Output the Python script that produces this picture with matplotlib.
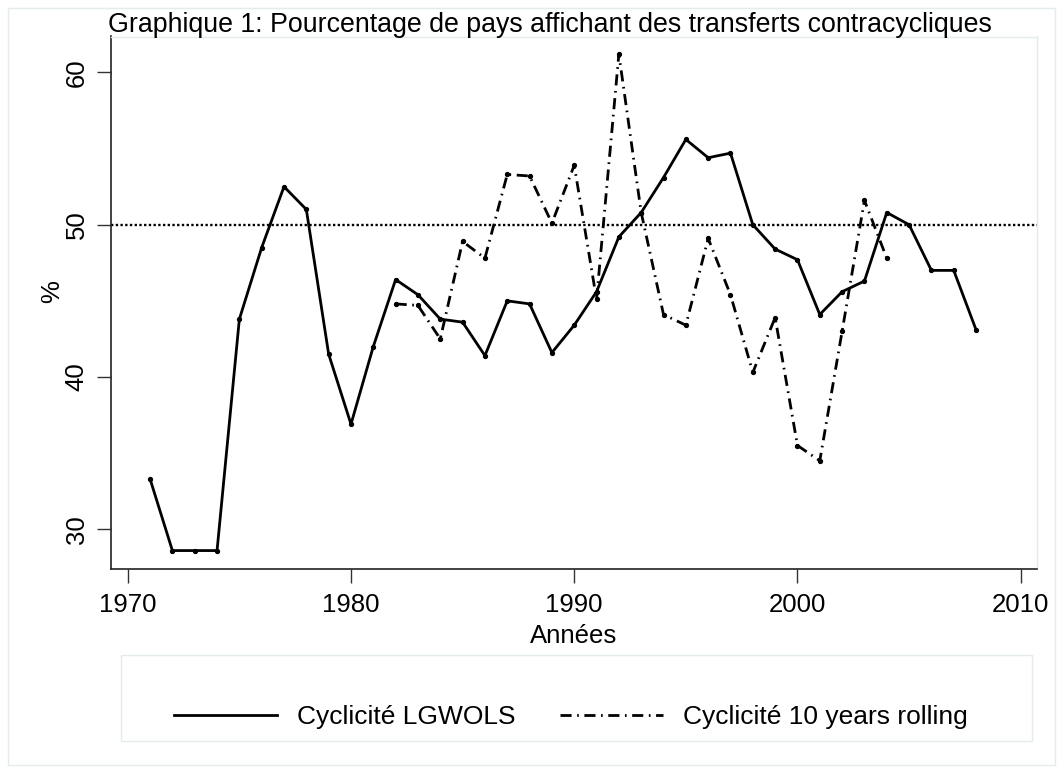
import matplotlib
matplotlib.use("Agg")
import matplotlib.pyplot as plt
from matplotlib.lines import Line2D
from matplotlib.patches import Rectangle

plt.rcParams['font.family'] = ['Liberation Sans', 'DejaVu Sans']

# --- data ---
years_lgwols = list(range(1971, 2009))
cyc_lgwols = [33.3, 28.6, 28.6, 28.6, 43.8, 48.5, 52.5, 51.0, 41.5, 36.9,
              42.0, 46.4, 45.4, 43.8, 43.6, 41.4, 45.0, 44.8, 41.6, 43.4,
              45.6, 49.2, 50.8, 53.1, 55.6, 54.4, 54.7, 50.0, 48.4, 47.7,
              44.1, 45.6, 46.3, 50.8, 50.0, 47.0, 47.0, 43.1]

years_rolling = list(range(1982, 2005))
cyc_rolling = [44.8, 44.7, 42.5, 48.9, 47.8, 53.3, 53.2, 50.1, 53.9, 45.1,
               61.2, 50.8, 44.1, 43.4, 49.1, 45.4, 40.3, 43.9, 35.5, 34.5,
               43.0, 51.6, 47.8]

xticks = [1970, 1980, 1990, 2000, 2010]
yticks = [30, 40, 50, 60]
seuil = 50

title = "Graphique 1: Pourcentage de pays affichant des transferts contracycliques"
labels = ["Cyclicité LGWOLS", "Cyclicité 10 years rolling"]

W, H = 1063, 773
fig = plt.figure(figsize=(W / 100, H / 100), dpi=100)
ax = fig.add_axes([111 / W, 1 - 569.3 / H, (1037 - 111) / W, (569.3 - 36.5) / H])

faint = "#e3ebef"
lw = 2.0
dashdot = (0, (4.0, 2.0, 0.6, 2.0))

ax.plot(years_lgwols, cyc_lgwols, color="black", lw=lw,
        marker="o", ms=2.8)
ax.plot(years_rolling, cyc_rolling, color="black", lw=lw, ls=dashdot,
        marker="o", ms=2.8)
ax.axhline(seuil, color="black", lw=1.7, ls=(0, (1, 1)))

ax.set_xlim(1969.25, 2010.73)
ax.set_ylim(27.37, 62.36)
ax.set_xticks(xticks)
ax.set_yticks(yticks)
ax.tick_params(axis="both", length=10, width=1, labelsize=18.5, color="#333333")
ax.tick_params(axis="x", pad=7)
ax.tick_params(axis="y", pad=6)
for lab in ax.get_yticklabels():
    lab.set_rotation(90)
    lab.set_va("center")

for s in ["left", "bottom"]:
    ax.spines[s].set_linewidth(1.2)
    ax.spines[s].set_color("#222222")
for s in ["top", "right"]:
    ax.spines[s].set_color(faint)
    ax.spines[s].set_linewidth(1)

ax.set_xlabel("Années", fontsize=18.5, labelpad=5)
fig.text(52 / W, 1 - 292 / H, "%", rotation=90, fontsize=18.5, ha="center", va="center")

fig.text(108 / W, 1 - 31.7 / H, title, fontsize=19.3, ha="left", va="baseline")

# outer frame and legend box
fig.patches.append(Rectangle((8 / W, 8 / H), 1 - 16 / W, 1 - 16 / H, transform=fig.transFigure,
                             fill=False, edgecolor=faint, lw=1))
fig.patches.append(Rectangle((121 / W, 1 - 741 / H), (1032 - 121) / W, (741 - 655) / H,
                             transform=fig.transFigure, fill=False, edgecolor=faint, lw=1))

h1 = Line2D([], [], color="black", lw=lw)
h2 = Line2D([], [], color="black", lw=lw, ls=dashdot)
fig.legend([h1, h2], labels, loc="center", bbox_to_anchor=(571 / W, 1 - 717 / H),
           ncol=2, frameon=False, fontsize=19, handlelength=3.9, handletextpad=0.75,
           columnspacing=1.7)

fig.savefig("out.png", dpi=100)
